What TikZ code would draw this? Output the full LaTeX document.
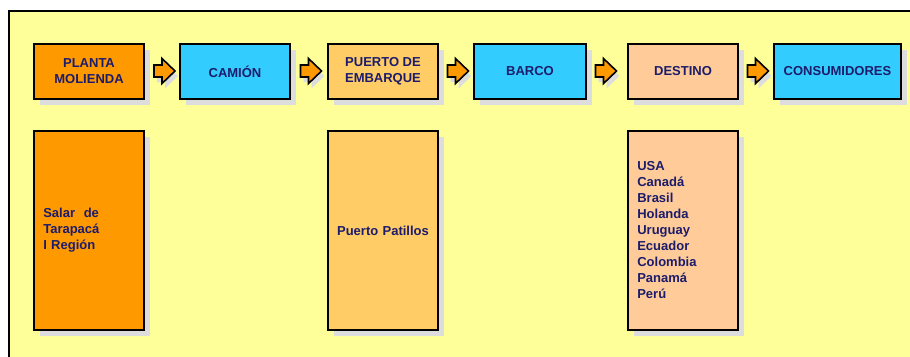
\documentclass[tikz,border=0pt]{standalone}
\usepackage{fontspec}
\setmainfont{Liberation Sans}
\usetikzlibrary{shapes,arrows,positioning,shadows,calc}
\definecolor{fondo}{RGB}{255,255,153}
\definecolor{tinta}{RGB}{28,28,107}
\definecolor{naranja}{RGB}{255,153,0}
\definecolor{celeste}{RGB}{51,204,255}
\definecolor{damasco}{RGB}{255,204,102}
\definecolor{durazno}{RGB}{255,204,153}
\definecolor{gris}{RGB}{221,221,221}
\tikzset{%
	sombra/.style={drop shadow={shadow xshift=6pt, shadow yshift=-6pt, fill=gris, opacity=1}},
	etapa/.style={rectangle, draw=black, line width=1.6pt, minimum height=55.4pt, minimum width=110.4pt, inner sep=1pt, align=center, text=tinta, font=\bfseries\fontsize{13}{16}\selectfont, sombra},
	detalle/.style={rectangle, draw=black, line width=1.6pt, minimum height=199.4pt, text width=91.4pt, inner xsep=9.5pt, inner ysep=0pt, align=left, text=tinta, font=\bfseries\fontsize{13}{16}\selectfont, sombra},
	flecha/.style={draw=black, line width=1.6pt, fill=naranja, line join=miter, drop shadow={shadow xshift=3pt, shadow yshift=-5pt, fill=gris, opacity=1}},
	flechabloque/.pic={\path[flecha] (-10.5,-6) -- (-2.5,-6) -- (-2.5,-12.5) -- (10.5,0) -- (-2.5,12.5) -- (-2.5,6) -- (-10.5,6) -- cycle;}
}

\begin{document}
\begin{tikzpicture}[x=1pt, y=-1pt]
	\useasboundingbox (0,0) rectangle (910,356);
	\clip (0,0) rectangle (910,356);
	\draw[line width=2pt, fill=fondo] (9,11) rectangle (930,380);

	% cadena de transporte
	\node[etapa, fill=naranja] (planta) at (89,71.5) {PLANTA\\MOLIENDA};
	\node[etapa, fill=celeste] (camion) at (235,71.5) {CAMI\'ON};
	\node[etapa, fill=damasco] (puerto) at (383,71.5) {PUERTO DE\\EMBARQUE};
	\node[etapa, fill=celeste, minimum width=112.4pt] (barco) at (530,71.5) {BARCO};
	\node[etapa, fill=durazno] (destino) at (683,71.5) {DESTINO};
	\node[etapa, fill=celeste, minimum width=127.4pt] (consumidores) at (837.5,71.5) {CONSUMIDORES};

	\coordinate (f1) at ($(planta.east)!0.5!(camion.west)+(2.5,-0.5)$);
	\coordinate (f2) at ($(camion.east)!0.5!(puerto.west)+(2,-0.5)$);
	\coordinate (f3) at ($(puerto.east)!0.5!(barco.west)+(2,-0.5)$);
	\coordinate (f4) at ($(barco.east)!0.5!(destino.west)+(-1,-0.5)$);
	\coordinate (f5) at ($(destino.east)!0.5!(consumidores.west)+(2,-0.5)$);
	\foreach \f in {f1,f2,f3,f4,f5}
		\pic at (\f) {flechabloque};

	% detalle de cada etapa
	\node[detalle, fill=naranja] (salar) [below=30pt of planta] {Salar~ de\\Tarapac\'a\\I Regi\'on};
	\node[detalle, fill=damasco, text width=101.4pt, inner xsep=4.5pt, align=center] (patillos) [below=30pt of puerto] {Puerto Patillos};
	\node[detalle, fill=durazno] (paises) [below=30pt of destino] {USA\\Canad\'a\\Brasil\\Holanda\\Uruguay\\Ecuador\\Colombia\\Panam\'a\\Per\'u};
\end{tikzpicture}
\end{document}
